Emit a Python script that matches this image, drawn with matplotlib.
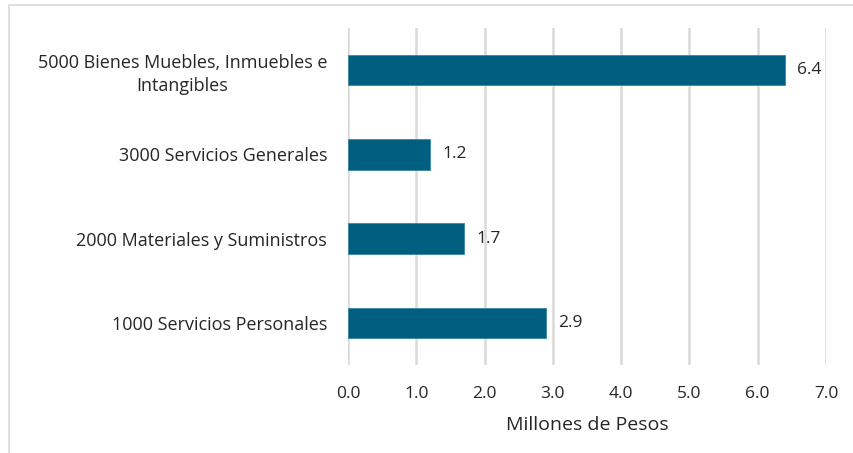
import matplotlib

matplotlib.use("Agg")
import matplotlib.pyplot as plt
from matplotlib.patches import Rectangle

CATEGORIES = [
    "1000 Servicios Personales",
    "2000 Materiales y Suministros",
    "3000 Servicios Generales",
    "5000 Bienes Muebles, Inmuebles e\nIntangibles",
]
VALUES = [2.9, 1.7, 1.2, 6.4]
X_TICKS = [0.0, 1.0, 2.0, 3.0, 4.0, 5.0, 6.0, 7.0]
X_LABEL = "Millones de Pesos"

BAR_COLOR = "#005F80"
GRID_COLOR = "#D9D9D9"
TEXT_COLOR = "#262626"

plt.rcParams["font.family"] = ["Open Sans", "DejaVu Sans"]

fig = plt.figure(figsize=(8.54, 4.53), dpi=100)
ax = fig.add_axes([348 / 854, 1 - 365 / 453, 478 / 854, 337 / 453])

positions = range(len(CATEGORIES))
bars = ax.barh(positions, VALUES, height=0.36, color=BAR_COLOR,
               edgecolor="#3A86A0", linewidth=0.6, zorder=3)

for bar, value in zip(bars, VALUES):
    ax.text(bar.get_width() + 0.18, bar.get_y() + bar.get_height() / 2,
            f"{value:.1f}", va="center", ha="left", fontsize=12.5, color=TEXT_COLOR)

ax.set_xlim(0, 7)
ax.set_ylim(-0.5, len(CATEGORIES) - 0.5)
ax.set_xticks(X_TICKS)
ax.set_xticklabels([f"{t:.1f}" for t in X_TICKS], fontsize=12.5, color=TEXT_COLOR)
ax.set_yticks(list(positions))
ax.set_yticklabels(CATEGORIES, fontsize=13, color=TEXT_COLOR,
                   multialignment="center", linespacing=1.35)
ax.tick_params(axis="both", length=0)
ax.tick_params(axis="y", pad=15)
ax.tick_params(axis="x", pad=15)
ax.set_xlabel(X_LABEL, fontsize=14, color=TEXT_COLOR, labelpad=10)

ax.grid(axis="x", color=GRID_COLOR, linewidth=1.8, zorder=0)
for spine in ax.spines.values():
    spine.set_visible(False)

# light frame of the original chart area
fig.patches.append(Rectangle((9 / 854, -0.05), 1.0, 1 - 5 / 453 + 0.05,
                             transform=fig.transFigure, fill=False,
                             edgecolor="#D9D9D9", linewidth=1.2))

fig.savefig("out.png", dpi=100)
